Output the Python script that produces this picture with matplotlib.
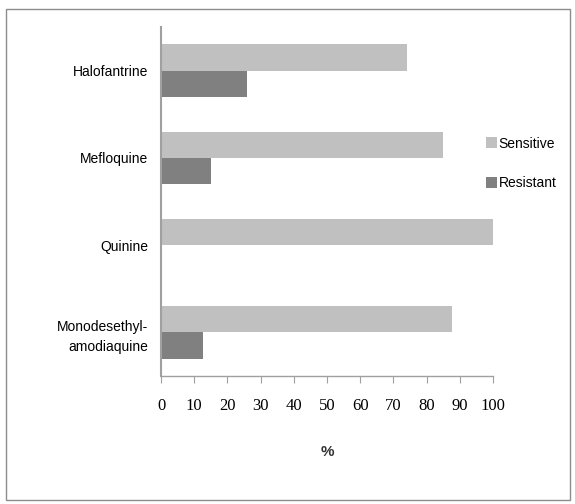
import matplotlib
matplotlib.use("Agg")
import matplotlib.pyplot as plt
from matplotlib.patches import Rectangle
import numpy as np

# 上から順のカテゴリ
drugs = ["Halofantrine", "Mefloquine", "Quinine", "Monodesethyl-\namodiaquine"]
sensitive = [74, 85, 100, 87.5]
resistant = [26, 15, 0, 12.5]
xticks = [0, 10, 20, 30, 40, 50, 60, 70, 80, 90, 100]

fig = plt.figure(figsize=(5.75, 5.04), dpi=100)
ax = fig.add_axes([161/575, 1 - 376/504, (493-161)/575, (376-27)/504])

# 外枠
fig.patches.append(Rectangle((6/575, 1 - 500/504), 564/575, 491/504,
                             transform=fig.transFigure, fill=False,
                             edgecolor="#8c8c8c", linewidth=1.0))

y = np.arange(len(drugs))
h = 0.3
ax.barh(y - h/2, sensitive, height=h, color="#c0c0c0", label="Sensitive")
ax.barh(y + h/2, resistant, height=h, color="#808080", label="Resistant")

ax.set_xlim(0, 100)
ax.set_ylim(len(drugs) - 0.5, -0.5)
ax.set_yticks(y)
ax.set_yticklabels(drugs, fontsize=10, family="Liberation Sans", linespacing=1.55)
ax.tick_params(axis="y", length=0, pad=9)
ax.set_xticks(xticks)
ax.set_xticklabels([str(t) for t in xticks], fontsize=12, family="Liberation Serif")
ax.tick_params(axis="x", length=5, color="#a0a0a0", pad=11)

for s in ["top", "right"]:
    ax.spines[s].set_visible(False)
ax.spines["left"].set_color("#a0a0a0")
ax.spines["bottom"].set_color("#a0a0a0")
ax.spines["left"].set_linewidth(1.5)
ax.spines["bottom"].set_linewidth(1.0)

ax.set_xlabel("%", fontsize=11, family="Liberation Sans", fontweight="bold",
              color="#333333", labelpad=22)

leg = fig.legend(loc="upper left", bbox_to_anchor=(480/575, 1 - 131/504),
                 frameon=False, prop={"family": "Liberation Sans", "size": 10},
                 handlelength=0.85, handleheight=0.85, handletextpad=0.1,
                 labelspacing=1.85, borderaxespad=0)

fig.savefig("out.png", dpi=100)
